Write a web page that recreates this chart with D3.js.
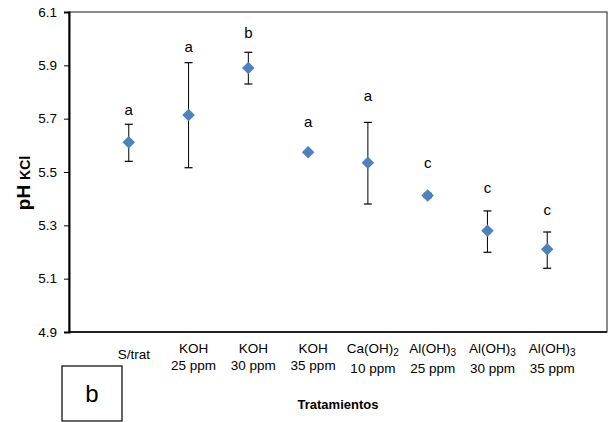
<!DOCTYPE html>
<html lang="en">
<head>
<meta charset="utf-8">
<title>pH KCl</title>
<script src="https://cdnjs.cloudflare.com/ajax/libs/d3/7.8.5/d3.min.js"></script>
<style>
  body { margin: 0; background: #fff; }
  text { font-family: "Liberation Sans", Arial, sans-serif; }
</style>
</head>
<body>
<script>
// categories: "|" splits lines, "_" marks a subscript digit
var categories = ["S/trat", "KOH|25 ppm", "KOH|30 ppm", "KOH|35 ppm",
                  "Ca(OH)_2|10 ppm", "Al(OH)_3|25 ppm", "Al(OH)_3|30 ppm", "Al(OH)_3|35 ppm"];
var means   = [5.612, 5.714, 5.89, 5.574, 5.535, 5.412, 5.28, 5.21];
var errHigh = [5.679, 5.91, 5.949, 5.578, 5.686, 5.42, 5.354, 5.275];
var errLow  = [5.54, 5.516, 5.83, 5.570, 5.38, 5.404, 5.199, 5.139];
var letters = ["a", "a", "b", "a", "a", "c", "c", "c"];
var letterY = [5.733, 5.969, 6.021, 5.688, 5.785, 5.534, 5.44, 5.357];
var yTicks  = [4.9, 5.1, 5.3, 5.5, 5.7, 5.9, 6.1];

var W = 613, H = 422;
var m = {left: 69, top: 12, right: 6, bottom: 90};

var svg = d3.select("body").append("svg")
    .attr("width", W)
    .attr("height", H);

var x = d3.scaleLinear().domain([0, categories.length + 1]).range([m.left, W - m.right]);
var y = d3.scaleLinear().domain([4.9, 6.1]).range([H - m.bottom, m.top]);

// plot frame
svg.append("rect")
    .attr("x", m.left).attr("y", m.top)
    .attr("width", W - m.right - m.left).attr("height", H - m.bottom - m.top)
    .attr("fill", "none").attr("stroke", "#404040").attr("stroke-width", 1.2);

// y axis
var yAxis = svg.append("g")
    .attr("transform", "translate(" + m.left + ",0)")
    .call(d3.axisLeft(y).tickValues(yTicks).tickFormat(d3.format(".1f")).tickSizeOuter(0).tickSize(5));
yAxis.select(".domain").attr("stroke", "#000").attr("stroke-width", 2);
yAxis.selectAll("line").attr("stroke", "#000");
yAxis.selectAll("text").attr("font-size", 13.5).attr("fill", "#000").attr("x", -12)
    .style("font-family", "Liberation Sans, Arial, sans-serif");

// x axis baseline
svg.append("line")
    .attr("x1", m.left).attr("x2", W - m.right)
    .attr("y1", y(4.9)).attr("y2", y(4.9))
    .attr("stroke", "#000").attr("stroke-width", 1.5);

// x category labels
categories.forEach(function(c, i) {
    var lines = c.split("|");
    var t = svg.append("text")
        .attr("text-anchor", "middle")
        .attr("font-size", 13.5)
        .attr("fill", "#000")
        .attr("transform", "translate(" + (x(i + 1) + 5) + "," + (lines.length === 1 ? 359 : 353) + ")");
    lines.forEach(function(l, j) {
        var parts = l.split("_");
        t.append("tspan").attr("x", 0).attr("dy", j === 0 ? 0 : 17).text(parts[0]);
        if (parts.length > 1) {
            t.append("tspan").attr("font-size", 10).attr("dy", 3).text(parts[1]);
            t.append("tspan").attr("dy", -3).text("");
        }
    });
});

// error bars
var g = svg.append("g");
means.forEach(function(v, i) {
    var cx = x(i + 1);
    g.append("line").attr("x1", cx).attr("x2", cx)
        .attr("y1", y(errHigh[i])).attr("y2", y(errLow[i]))
        .attr("stroke", "#000").attr("stroke-width", 1);
    [errHigh[i], errLow[i]].forEach(function(e) {
        g.append("line").attr("x1", cx - 4).attr("x2", cx + 4)
            .attr("y1", y(e)).attr("y2", y(e))
            .attr("stroke", "#000").attr("stroke-width", 1.2);
    });
});

// diamond markers
g.selectAll("path.pt").data(means).enter().append("path")
    .attr("class", "pt")
    .attr("d", d3.symbol(d3.symbolSquare, 78))
    .attr("transform", function(d, i) { return "translate(" + x(i + 1) + "," + y(d) + ") rotate(45)"; })
    .attr("fill", "#4F81BD");

// significance letters
g.selectAll("text.let").data(letters).enter().append("text")
    .attr("class", "let")
    .attr("x", function(d, i) { return x(i + 1); })
    .attr("y", function(d, i) { return y(letterY[i]); })
    .attr("dy", "0.35em")
    .attr("text-anchor", "middle")
    .attr("font-size", 15)
    .text(function(d) { return d; });

// y axis title
var yt = svg.append("text")
    .attr("transform", "translate(30,183) rotate(-90)")
    .attr("text-anchor", "middle")
    .attr("font-weight", "bold")
    .attr("font-size", 19);
yt.append("tspan").text("pH");
yt.append("tspan").attr("font-size", 14).attr("dx", 5).text("KCl");

// x axis title
svg.append("text")
    .attr("x", (m.left + W - m.right) / 2)
    .attr("y", 409)
    .attr("text-anchor", "middle")
    .attr("font-weight", "bold")
    .attr("font-size", 13)
    .text("Tratamientos");

// panel tag
svg.append("rect")
    .attr("x", 62).attr("y", 366).attr("width", 60).attr("height", 55)
    .attr("fill", "#fff").attr("stroke", "#000").attr("stroke-width", 1.2);
svg.append("text")
    .attr("x", 92).attr("y", 394).attr("dy", "0.35em")
    .attr("text-anchor", "middle")
    .attr("font-size", 24)
    .text("b");
</script>
</body>
</html>
